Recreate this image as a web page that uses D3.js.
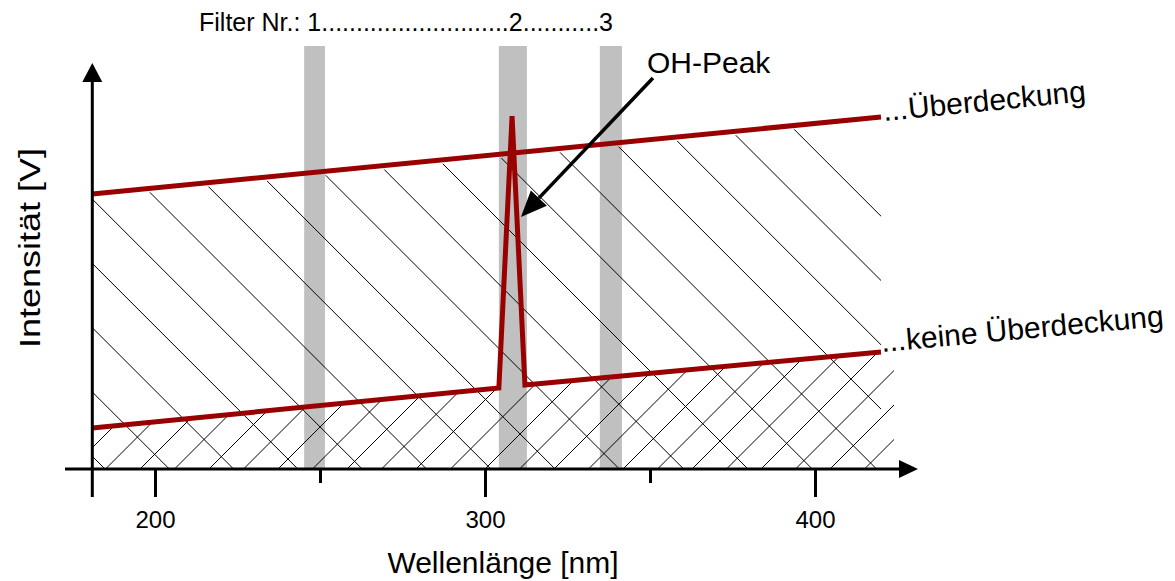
<!DOCTYPE html>
<html><head><meta charset="utf-8">
<script src="https://cdn.jsdelivr.net/npm/d3@7"></script>
<style>body{margin:0;background:#fff}svg{display:block}text{font-family:"Liberation Sans",Arial,sans-serif;fill:#000}</style>
</head><body><svg id="c" width="1175" height="581"></svg>
<script>
// ---- data ----
const majorTicks = [200, 300, 400];
const minorTicks = [250, 350];
const upperNm = [181, 420];
const upperV  = [6.875, 8.8];
const lowerNm = [181, 304.2, 308.2, 312.1, 420];
const lowerV  = [1.025, 2.025, 8.825, 2.1, 2.925];
const filterStart = [245.2, 304.2, 334.8];
const filterEnd   = [251.5, 312.7, 341.5];
const filterText = "Filter Nr.: 1...........................2...........3";
const xTitle = "Wellenlänge [nm]";
const yTitle = "Intensität [V]";
const peakLabel = "OH-Peak";
const upperLabel = "...Überdeckung";
const lowerLabel = "...keine Überdeckung";
const arrowFrom = [350.9, 9.775];
const arrowTo   = [310.9, 6.3];

const svg = d3.select("#c");
const x = d3.scaleLinear().domain([200, 400]).range([155, 815]);
const y = d3.scaleLinear().domain([0, 10]).range([469, 69]);
const X0 = x(181), Y0 = y(0), XE = x(420);
const RED = "#990000";

// filter bands
svg.append("g").selectAll("rect").data(filterStart).join("rect")
  .attr("x", (d) => x(d)).attr("width", (d, i) => x(filterEnd[i]) - x(d))
  .attr("y", 46).attr("height", Y0 - 46).attr("fill", "#c0c0c0");

// clip regions for hatching
const defs = svg.append("defs");
const topPts = upperNm.map((d, i) => [x(d), y(upperV[i]) + 4]);
defs.append("clipPath").attr("id", "clipA").append("path")
  .attr("d", d3.line()([...topPts, [XE, Y0], [X0, Y0]]));
const baseIdx = [0, 1, 3, 4];
const basePts = baseIdx.map(i => [x(lowerNm[i]), y(lowerV[i]) + 2]);
const sl = (basePts[3][1] - basePts[2][1]) / (basePts[3][0] - basePts[2][0]);
const extX = XE + 13;
defs.append("clipPath").attr("id", "clipB").append("path")
  .attr("d", d3.line()([...basePts, [extX, basePts[3][1] + sl * (extX - basePts[3][0])], [extX, Y0], [X0, Y0]]));

const gA = svg.append("g").attr("clip-path", "url(#clipA)");
const stepA = 64.3;
for (let k = -12; k <= 16; k++) {
  const x0 = 105 + stepA * k;
  gA.append("line").attr("x1", x0 - 520).attr("y1", Y0 - 520).attr("x2", x0 + 30).attr("y2", Y0 + 30)
    .attr("stroke", "#000").attr("stroke-width", 1);
}
const gB = svg.append("g").attr("clip-path", "url(#clipB)");
const stepB = 34.5;
for (let k = -3; k <= 28; k++) {
  const x0 = 105.5 + stepB * k;
  gB.append("line").attr("x1", x0 - 30).attr("y1", Y0 + 30).attr("x2", x0 + 520).attr("y2", Y0 - 520)
    .attr("stroke", "#000").attr("stroke-width", 1);
}

// red lines
const line = d3.line().x(d => x(d[0])).y(d => y(d[1]));
svg.append("path").attr("d", line(upperNm.map((d, i) => [d, upperV[i]])))
  .attr("fill", "none").attr("stroke", RED).attr("stroke-width", 5);
svg.append("path").attr("d", line(lowerNm.map((d, i) => [d, lowerV[i]])))
  .attr("fill", "none").attr("stroke", RED).attr("stroke-width", 5).attr("stroke-linejoin", "miter").attr("stroke-miterlimit", 20);

// axes
const ax = svg.append("g").attr("stroke", "#000").attr("stroke-width", 3);
ax.append("line").attr("x1", 65).attr("y1", Y0).attr("x2", 902).attr("y2", Y0);
ax.append("line").attr("x1", X0).attr("y1", 497).attr("x2", X0).attr("y2", 80);
svg.append("path").attr("d", `M${X0},63 L${X0 - 10},82 L${X0 + 10},82 Z`).attr("fill", "#000");
svg.append("path").attr("d", `M918,${Y0} L899,${Y0 - 9} L899,${Y0 + 9} Z`).attr("fill", "#000");

const gMaj = svg.append("g").attr("transform", `translate(0,${Y0})`)
  .call(d3.axisBottom(x).tickValues(majorTicks).tickSize(28).tickPadding(14).tickFormat(d3.format("d")));
gMaj.select(".domain").remove();
gMaj.selectAll("line").attr("stroke", "#000").attr("stroke-width", 3);
gMaj.selectAll("text").attr("font-size", 24).attr("font-family", "Liberation Sans, Arial, sans-serif").attr("fill", "#000");
const gMin = svg.append("g").attr("transform", `translate(0,${Y0})`)
  .call(d3.axisBottom(x).tickValues(minorTicks).tickSize(14).tickFormat(""));
gMin.select(".domain").remove();
gMin.selectAll("line").attr("stroke", "#000").attr("stroke-width", 3);

// texts
svg.append("text").attr("x", 199).attr("y", 31).attr("font-size", 25).text(filterText);
svg.append("text").attr("x", 503).attr("y", 573).attr("text-anchor", "middle").attr("font-size", 30).text(xTitle);
svg.append("text").attr("transform", "translate(40,248) rotate(-90)").attr("text-anchor", "middle").attr("font-size", 30)
  .attr("textLength", 200).attr("lengthAdjust", "spacingAndGlyphs").text(yTitle);
svg.append("text").attr("x", 647).attr("y", 73).attr("font-size", 30).text(peakLabel);

const angU = Math.atan2(y(upperV[1]) - y(upperV[0]), x(upperNm[1]) - x(upperNm[0])) * 180 / Math.PI;
svg.append("text").attr("transform", `translate(884,121) rotate(${angU})`).attr("font-size", 30).text(upperLabel);
const angL = Math.atan2(y(lowerV[4]) - y(lowerV[3]), x(lowerNm[4]) - x(lowerNm[3])) * 180 / Math.PI;
svg.append("text").attr("transform", `translate(882,352) rotate(${angL})`).attr("font-size", 30).text(lowerLabel);

// arrow
const ax1 = x(arrowFrom[0]), ay1 = y(arrowFrom[1]), ax2 = x(arrowTo[0]), ay2 = y(arrowTo[1]);
const ang = Math.atan2(ay2 - ay1, ax2 - ax1);
const hl = 26, hw = 11;
const bx = ax2 - hl * Math.cos(ang), by = ay2 - hl * Math.sin(ang);
svg.append("line").attr("x1", ax1).attr("y1", ay1).attr("x2", bx).attr("y2", by).attr("stroke", "#000").attr("stroke-width", 3.5);
svg.append("path").attr("d", `M${ax2},${ay2} L${bx - hw * Math.sin(ang)},${by + hw * Math.cos(ang)} L${bx + hw * Math.sin(ang)},${by - hw * Math.cos(ang)} Z`).attr("fill", "#000");
</script></body></html>
